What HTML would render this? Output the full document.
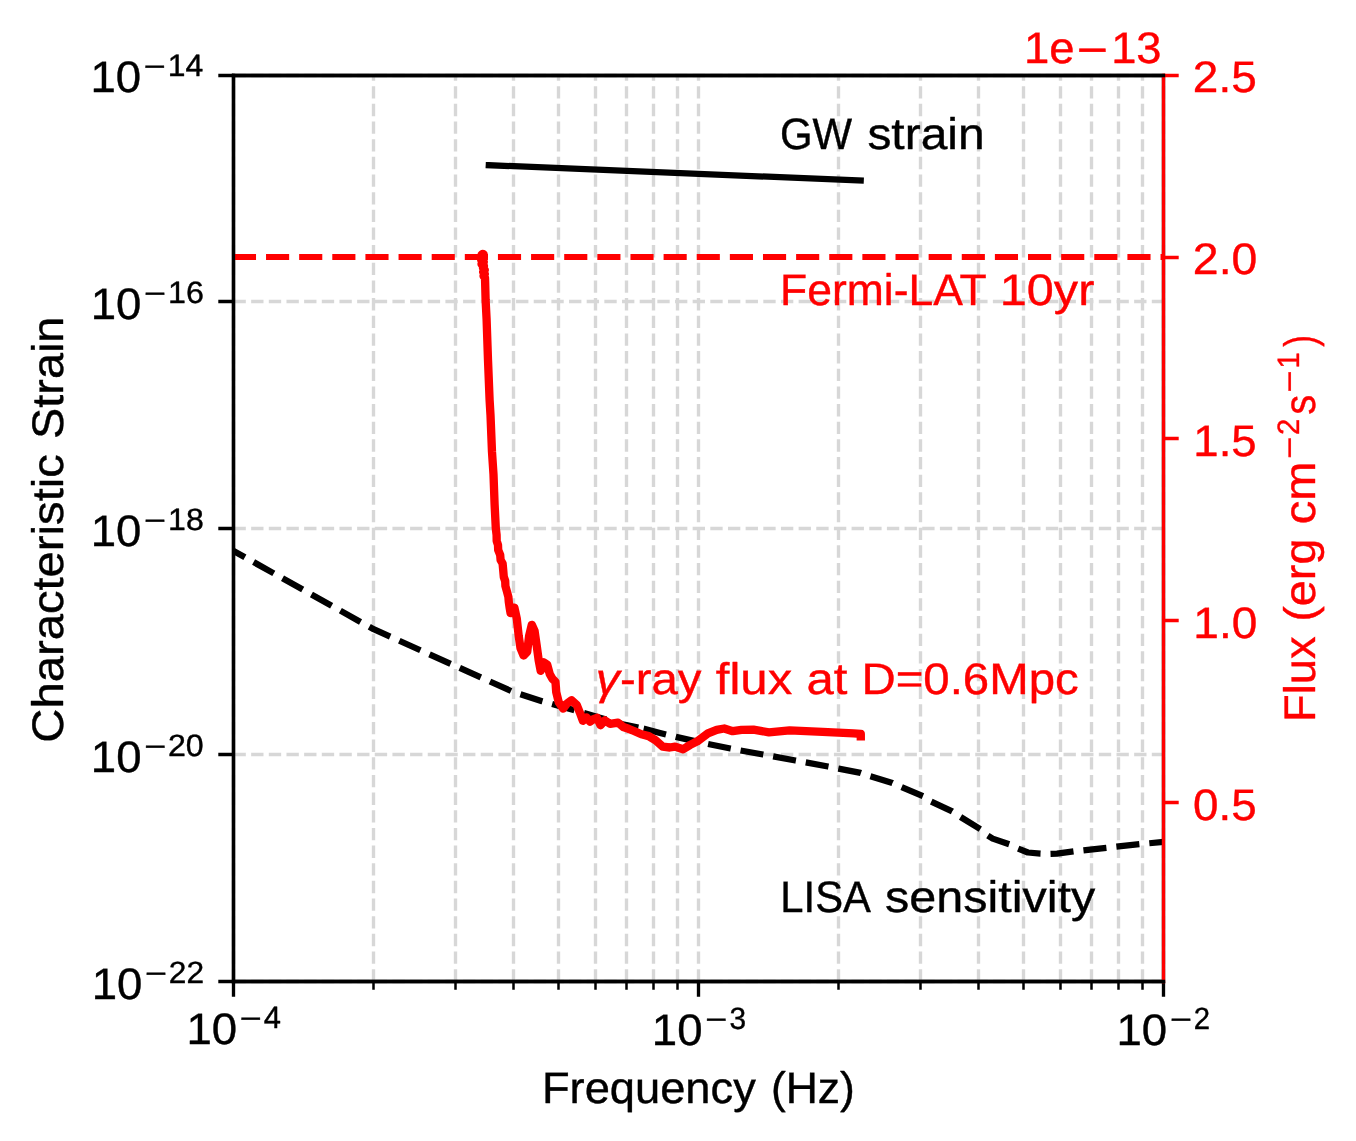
<!DOCTYPE html>
<html><head><meta charset="utf-8"><title>GW strain and gamma-ray flux</title>
<style>html,body{margin:0;padding:0;background:#fff;overflow:hidden}svg{display:block;will-change:transform;text-rendering:geometricPrecision;font-family:"Liberation Sans",sans-serif}</style></head>
<body>
<svg width="1356" height="1141" viewBox="0 0 1356 1141">
<rect width="1356" height="1141" fill="#fff"/>
<path d="M233.5 981.5V75.5M373.5 981.5V75.5M455.5 981.5V75.5M513.5 981.5V75.5M558.5 981.5V75.5M595.5 981.5V75.5M626.5 981.5V75.5M653.5 981.5V75.5M677.5 981.5V75.5M698.5 981.5V75.5M838.5 981.5V75.5M920.5 981.5V75.5M978.5 981.5V75.5M1023.5 981.5V75.5M1060.5 981.5V75.5M1091.5 981.5V75.5M1118.5 981.5V75.5M1142.5 981.5V75.5M1163.5 981.5V75.5M233.5 981.5H1163.5M233.5 754.5H1163.5M233.5 528.5H1163.5M233.5 301.5H1163.5M233.5 75.5H1163.5" fill="none" stroke="#b0b0b0" stroke-opacity="0.5" stroke-width="3.33" stroke-dasharray="12.33 5.33"/>
<path d="M233.5 981.5v15.2M698.5 981.5v15.2M1163.5 981.5v15.2M233.5 981.5h-15.2M233.5 754.5h-15.2M233.5 528.5h-15.2M233.5 301.5h-15.2M233.5 75.5h-15.2" fill="none" stroke="#000" stroke-width="3.33"/>
<path d="M373.5 981.5v8.33M455.5 981.5v8.33M513.5 981.5v8.33M558.5 981.5v8.33M595.5 981.5v8.33M626.5 981.5v8.33M653.5 981.5v8.33M677.5 981.5v8.33M838.5 981.5v8.33M920.5 981.5v8.33M978.5 981.5v8.33M1023.5 981.5v8.33M1060.5 981.5v8.33M1091.5 981.5v8.33M1118.5 981.5v8.33M1142.5 981.5v8.33" fill="none" stroke="#000" stroke-width="2.5"/>
<path d="M488.8 165.2L860.7 180.5" fill="none" stroke="#000" stroke-width="6.25" stroke-linecap="square"/>
<path d="M233.6 550.9L373.6 629.2L513.5 692.1L542 701.2L573.7 710.1L600 717.8L622.7 724.2L641.5 728.2" fill="none" stroke="#000" stroke-width="6.25" stroke-dasharray="23.13 10" stroke-dashoffset="10.2" stroke-linejoin="round"/>
<path d="M641.5 728.2L644.2 728.8L660 733L676 736.9L693.7 740.9L698.6 742.1L707.9 743.9L730.4 748.5L740.4 750.5L763 754.5L795.5 760.5L828 766.5L838.6 768.6L860.6 772.9L869.9 776.2L892.4 782.9L901.1 786.9L923 796.2L930.9 801.5L952.2 811.4L960.1 816.7L980.7 829.3L987.4 835.3L992.7 838.6L1009.3 844.3L1017.9 848.5L1027.9 852.5L1040.5 853.6L1050.4 853.9L1057 853.7L1073.7 851.4L1106.2 847.8L1139.4 844.2L1163.6 841.9" fill="none" stroke="#000" stroke-width="6.25" stroke-dasharray="23.13 10" stroke-dashoffset="30.96" stroke-linejoin="round"/>
<path d="M233.5 981.5V75.5M1163.5 981.5V75.5M233.5 981.5H1163.5M233.5 75.5H1163.5" fill="none" stroke="#000" stroke-width="3.33" stroke-linecap="square"/>
<g fill="#000" stroke="#000" stroke-width="0.4" stroke-linejoin="round">
<text transform="translate(779.96 149.14) scale(0.9495 1)" font-size="44.17">GW</text>
<text transform="translate(867.39 149.14) scale(1.0855 1)" font-size="44.17">strain</text>
<text transform="translate(780.07 305.38) scale(1.0066 1)" font-size="44.17" fill="#f00" stroke="#f00">Fermi-LAT</text>
<text transform="translate(999.79 305.38) scale(1.1004 1)" font-size="44.17" fill="#f00" stroke="#f00">10yr</text>
<text transform="translate(595.85 694.39) scale(1.0874 1)" font-size="44.17" font-style="italic" fill="#f00" stroke="#f00">γ</text>
<text transform="translate(620 694.39) scale(1.0723 1)" font-size="44.17" fill="#f00" stroke="#f00">-ray</text>
<text transform="translate(715.83 694.39) scale(1.1110 1)" font-size="44.17" fill="#f00" stroke="#f00">flux</text>
<text transform="translate(806.54 694.39) scale(1.1122 1)" font-size="44.17" fill="#f00" stroke="#f00">at</text>
<text transform="translate(861.44 694.39) scale(1.0729 1)" font-size="44.17" fill="#f00" stroke="#f00">D=0.6Mpc</text>
<text transform="translate(780.3 912.44) scale(0.9461 1)" font-size="44.17">LISA</text>
<text transform="translate(885.12 912.44) scale(1.0983 1)" font-size="44.17">sensitivity</text>
<text transform="translate(541.9 1103.49) scale(1.0252 1)" font-size="44.17">Frequency</text>
<text transform="translate(770.95 1103.49) scale(1.0071 1)" font-size="44.17">(Hz)</text>
<text transform="translate(63.42 742.68) rotate(-90) scale(1.0690 1)" font-size="44.17">Characteristic</text>
<text transform="translate(63.42 438.93) rotate(-90) scale(1.0602 1)" font-size="44.17">Strain</text>
<text transform="translate(1315.44 722.05) rotate(-90) scale(1.0273 1)" font-size="44.17" fill="#f00" stroke="#f00">Flux</text>
<text transform="translate(1315.44 621.76) rotate(-90) scale(1.0599 1)" font-size="44.17" fill="#f00" stroke="#f00">(erg</text>
<text transform="translate(1315.44 524.28) rotate(-90) scale(1.0678 1)" font-size="44.17" fill="#f00" stroke="#f00">cm</text>
<text transform="translate(1300.47 458.81) rotate(-90) scale(1.2171 1)" font-size="30.92" fill="#f00" stroke="#f00">−</text>
<text transform="translate(1299.36 434.95) rotate(-90) scale(0.9473 1)" font-size="30.92" fill="#f00" stroke="#f00">2</text>
<text transform="translate(1315.44 414.85) rotate(-90) scale(0.9047 1)" font-size="44.17" fill="#f00" stroke="#f00">s</text>
<text transform="translate(1300.47 392.62) rotate(-90) scale(1.2171 1)" font-size="30.92" fill="#f00" stroke="#f00">−</text>
<text transform="translate(1299.36 368.38) rotate(-90) scale(0.9378 1)" font-size="30.92" fill="#f00" stroke="#f00">1</text>
<text transform="translate(1315.44 346.65) rotate(-90) scale(0.7945 1)" font-size="44.17" fill="#f00" stroke="#f00">)</text>
<text transform="translate(1024.06 63.32) scale(1.0307 1)" font-size="44.17" fill="#f00" stroke="#f00">1e</text>
<text transform="translate(1076.66 65.01) scale(1.2131 1)" font-size="44.17" fill="#f00" stroke="#f00">−</text>
<text transform="translate(1111.13 63.32) scale(1.0251 1)" font-size="44.17" fill="#f00" stroke="#f00">13</text>
<text transform="translate(186.44 1043.84) scale(1.0322 1)" font-size="44.17">10</text>
<text transform="translate(239.85 1028.87) scale(1.2171 1)" font-size="30.92">−</text>
<text transform="translate(263.68 1027.76) scale(0.9997 1)" font-size="30.92">4</text>
<text transform="translate(651.86 1044.72) scale(1.0322 1)" font-size="44.17">10</text>
<text transform="translate(705.27 1029.75) scale(1.2171 1)" font-size="30.92">−</text>
<text transform="translate(729.44 1028.65) scale(0.9652 1)" font-size="30.92">3</text>
<text transform="translate(1116.48 1044.72) scale(1.0322 1)" font-size="44.17">10</text>
<text transform="translate(1169.89 1029.75) scale(1.2171 1)" font-size="30.92">−</text>
<text transform="translate(1193.75 1028.65) scale(0.9473 1)" font-size="30.92">2</text>
<text transform="translate(91.66 998.81) scale(1.0322 1)" font-size="44.17">10</text>
<text transform="translate(145.07 983.83) scale(1.2171 1)" font-size="30.92">−</text>
<text transform="translate(168.82 982.73) scale(1.0258 1)" font-size="30.92">22</text>
<text transform="translate(90.79 772.22) scale(1.0322 1)" font-size="44.17">10</text>
<text transform="translate(144.2 757.25) scale(1.2171 1)" font-size="30.92">−</text>
<text transform="translate(167.92 756.14) scale(1.0406 1)" font-size="30.92">20</text>
<text transform="translate(90.66 545.64) scale(1.0322 1)" font-size="44.17">10</text>
<text transform="translate(144.07 530.67) scale(1.2171 1)" font-size="30.92">−</text>
<text transform="translate(168.09 529.56) scale(1.0379 1)" font-size="30.92">18</text>
<text transform="translate(90.66 319.05) scale(1.0322 1)" font-size="44.17">10</text>
<text transform="translate(144.07 304.08) scale(1.2171 1)" font-size="30.92">−</text>
<text transform="translate(168.08 302.97) scale(1.0430 1)" font-size="30.92">16</text>
<text transform="translate(90.41 91.84) scale(1.0322 1)" font-size="44.17">10</text>
<text transform="translate(143.82 76.86) scale(1.2171 1)" font-size="30.92">−</text>
<text transform="translate(167.85 75.76) scale(1.0328 1)" font-size="30.92">14</text>
<text transform="translate(1193.06 819.6) scale(1.0368 1)" font-size="44.17" fill="#f00" stroke="#f00">0.5</text>
<text transform="translate(1193.31 637.78) scale(1.0428 1)" font-size="44.17" fill="#f00" stroke="#f00">1.0</text>
<text transform="translate(1193.35 455.96) scale(1.0320 1)" font-size="44.17" fill="#f00" stroke="#f00">1.5</text>
<text transform="translate(1192.81 274.14) scale(1.0512 1)" font-size="44.17" fill="#f00" stroke="#f00">2.0</text>
<text transform="translate(1192.84 92.32) scale(1.0406 1)" font-size="44.17" fill="#f00" stroke="#f00">2.5</text>
</g>
<path d="M1163.5 802.5h15.2M1163.5 620.5h15.2M1163.5 438.5h15.2M1163.5 257.5h15.2M1163.5 75.5h15.2" fill="none" stroke="#f00" stroke-width="3.33"/>
<path d="M232.9 257H1163.5" fill="none" stroke="#f00" stroke-width="6" stroke-dasharray="23.13 10"/>
<path d="M481.6 257.5L481.6 254.6L482.6 253.9L483.7 254.4L483.8 257L481.4 260L483.8 262L481.5 264L483.9 266L483 268L484.7 270L483.2 272L484.8 274L483.6 276L485 278L485.1 281L485.6 300L486.6 319.4L488 360L489.6 400L490.5 414.9L492 452L493.5 474.5L494.6 504.3L495.8 528.2L496.6 535L496.7 541L498 545L498.2 550L500.2 555L500.6 560L502.6 563.5L503.2 570L503.8 577L505.2 581L505.4 586L506.8 591L508.4 597L508.8 602L509.6 607.5L510.6 613.2L514.4 607.7L516.8 618.7L518.7 635.9L520.5 648.2L523.6 655.5L527.2 651.8L529.1 635.9L531.8 624.8L534.6 631L536.7 645.7L538.7 660.4L540.7 670.9L543.8 662.3L547.2 664.7L549.7 673.9L552.4 678.8L555.5 681.9L556.2 691.9L558.8 702.4L563.2 708.6L567.2 703.3L571.6 700.2L576.8 705.1L580.3 713.8L582.9 720.8L586.5 717.3L590 721.7L593.5 719.1L597 717.8L600.5 725.2L604.9 720.4L610.1 723.9L618 722.6L623.3 727L628.5 728.8L634 731L641.4 734.3L648.7 736.1L655.7 740.4L662.7 746.6L669.8 747.5L675.1 746.6L683.1 749.3L690.2 744.9L697.3 741.3L707.9 733.4L716.7 729.8L724.2 728.5L732.7 731.2L741.5 729.8L753.4 729.7L768.9 732.3L789.6 730.3L822.6 731.8L853.6 733.4L860.8 733.9L860.8 736.4" fill="none" stroke="#f00" stroke-width="8.33" stroke-linejoin="round" stroke-linecap="square"/>
<path d="M233.5 981.5V75.5" fill="none" stroke="#000" stroke-width="3.33" stroke-linecap="square"/>
<path d="M1163.5 981.5V75.5" fill="none" stroke="#f00" stroke-width="3.33" stroke-linecap="square"/>
<path d="M233.5 981.5H1163.5M233.5 75.5H1163.5" fill="none" stroke="#000" stroke-width="3.33" stroke-linecap="square"/>
</svg>
</body></html>
